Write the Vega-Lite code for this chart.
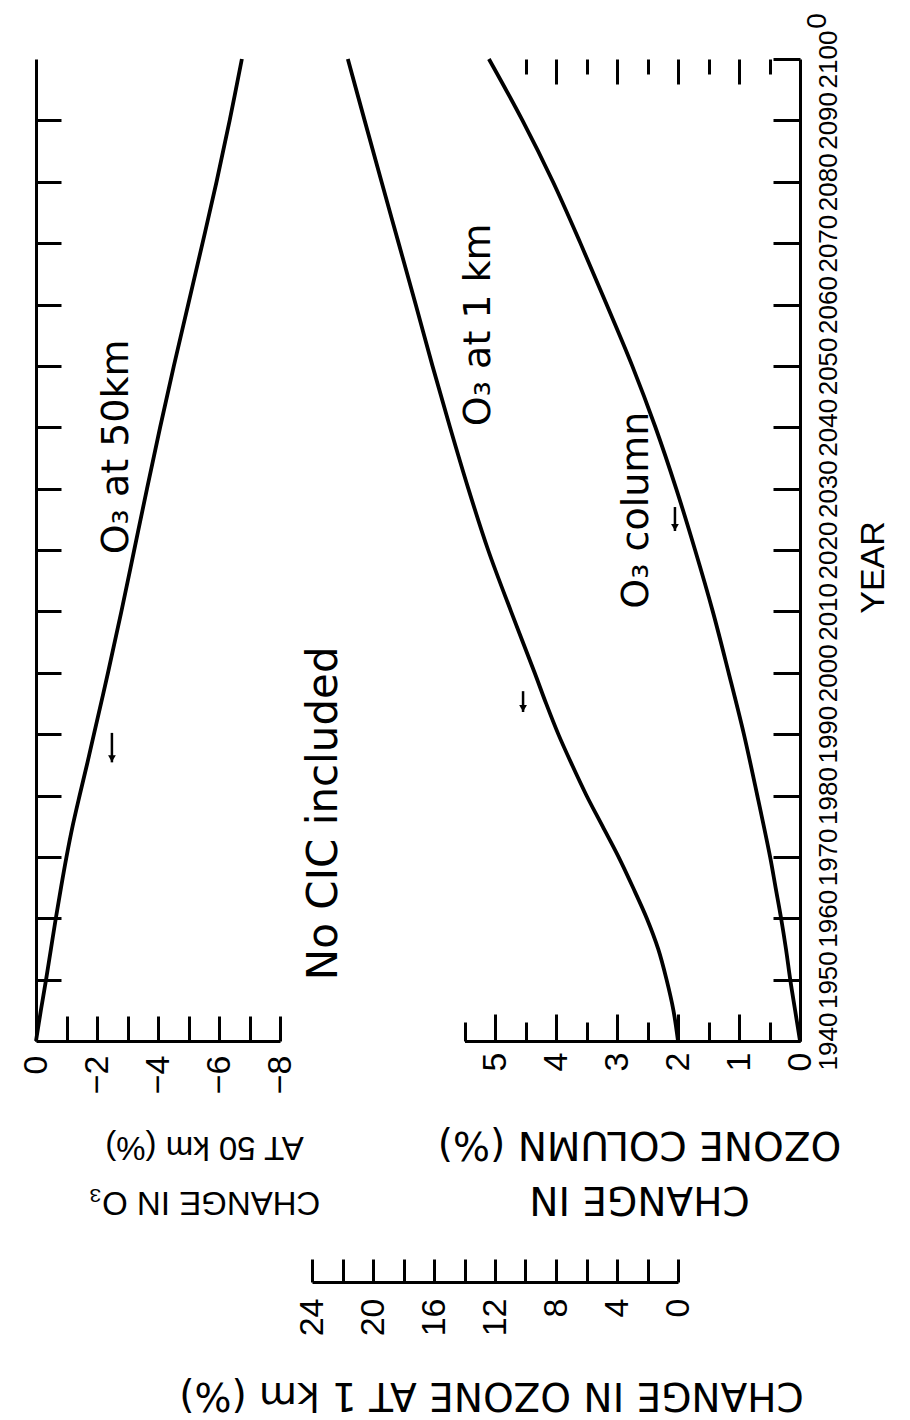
{
  "$schema": "https://vega.github.io/schema/vega-lite/v6.json",
  "width": 764,
  "height": 982,
  "autosize": "none",
  "padding": {"left": 36, "top": 59, "right": 110, "bottom": 379},
  "background": "white",
  "config": {
    "view": {"stroke": null},
    "axis": {
      "grid": false,
      "domainColor": "black",
      "domainWidth": 3,
      "tickColor": "black",
      "tickWidth": 3,
      "labelColor": "black",
      "titleColor": "black",
      "labelFont": "Liberation Sans",
      "labelFontSize": 34,
      "labelFontWeight": "normal",
      "titleFontWeight": "normal",
      "titleFont": "DejaVu Sans",
      "labelOverlap": false,
      "labelFlush": false,
      "labelBound": false
    }
  },
  "datasets": {
    "km50": [
      {"year": 1940, "change": 0}, {"year": 1945, "change": -0.16}, {"year": 1950, "change": -0.33},
      {"year": 1955, "change": -0.49}, {"year": 1960, "change": -0.65}, {"year": 1965, "change": -0.82},
      {"year": 1970, "change": -1.0}, {"year": 1975, "change": -1.2}, {"year": 1980, "change": -1.43},
      {"year": 1985, "change": -1.67}, {"year": 1990, "change": -1.9}, {"year": 2000, "change": -2.36},
      {"year": 2010, "change": -2.8}, {"year": 2020, "change": -3.22}, {"year": 2030, "change": -3.64},
      {"year": 2040, "change": -4.07}, {"year": 2050, "change": -4.52}, {"year": 2060, "change": -4.99},
      {"year": 2070, "change": -5.46}, {"year": 2080, "change": -5.92}, {"year": 2090, "change": -6.35},
      {"year": 2100, "change": -6.75}
    ],
    "km1": [
      {"year": 1940, "change": 0}, {"year": 1945, "change": 0.3}, {"year": 1950, "change": 0.75},
      {"year": 1955, "change": 1.3}, {"year": 1960, "change": 2.05}, {"year": 1965, "change": 2.95},
      {"year": 1970, "change": 3.9}, {"year": 1975, "change": 4.95}, {"year": 1980, "change": 6.0},
      {"year": 1985, "change": 6.95}, {"year": 1990, "change": 7.85}, {"year": 1995, "change": 8.65},
      {"year": 2000, "change": 9.4}, {"year": 2010, "change": 10.95}, {"year": 2020, "change": 12.45},
      {"year": 2030, "change": 13.75}, {"year": 2040, "change": 14.95}, {"year": 2050, "change": 16.1},
      {"year": 2060, "change": 17.2}, {"year": 2070, "change": 18.32}, {"year": 2080, "change": 19.44},
      {"year": 2090, "change": 20.55}, {"year": 2100, "change": 21.65}
    ],
    "column": [
      {"year": 1940, "change": 0}, {"year": 1945, "change": 0.08}, {"year": 1950, "change": 0.16},
      {"year": 1955, "change": 0.23}, {"year": 1960, "change": 0.31}, {"year": 1965, "change": 0.4},
      {"year": 1970, "change": 0.49}, {"year": 1980, "change": 0.7}, {"year": 1990, "change": 0.92},
      {"year": 2000, "change": 1.17}, {"year": 2010, "change": 1.43}, {"year": 2020, "change": 1.72},
      {"year": 2030, "change": 2.03}, {"year": 2040, "change": 2.37}, {"year": 2050, "change": 2.75},
      {"year": 2060, "change": 3.17}, {"year": 2070, "change": 3.6}, {"year": 2080, "change": 4.05},
      {"year": 2090, "change": 4.55}, {"year": 2100, "change": 5.1}
    ],
    "notes": [
      {"label": "O₃ at 50km", "year": 2036.8, "v": 11.02},
      {"label": "O₃ at 1 km", "year": 2056.7, "v": 5.08},
      {"label": "O₃ column", "year": 2026.5, "v": 2.49}
    ],
    "main_note": [
      {"label": "No CIC included", "year": 1977.1, "v": 7.59}
    ],
    "arrows": [
      {"v": 11.28, "top": 1990.2, "bottom": 1985.4, "head": 1986.0},
      {"v": 4.54, "top": 1997.0, "bottom": 1993.6, "head": 1994.2},
      {"v": 2.05, "top": 2027.0, "bottom": 2023.1, "head": 2023.7}
    ],
    "corner": [
      {"label": "0", "year": 2106.2, "v": -0.3}
    ]
  },
  "layer": [
    {
      "data": {"name": "km50"},
      "mark": {"type": "line", "color": "black", "strokeWidth": 3.8, "interpolate": "catmull-rom"},
      "encoding": {
        "x": {
          "field": "change", "type": "quantitative",
          "scale": {"domain": [0, -8], "range": [0, 244], "nice": false, "zero": false},
          "axis": {
            "orient": "bottom",
            "values": [0, -1, -2, -3, -4, -5, -6, -7, -8],
            "tickSize": -25,
            "labelExpr": "datum.value % 2 === 0 ? datum.label : ''",
            "labelAngle": 270, "labelAlign": "right", "labelBaseline": "middle", "labelPadding": 39,
            "title": ["CHANGE IN O₃", "AT 50 km (%)"],
            "titleAngle": 180, "titleX": 168, "titleY": 160,
            "titleAlign": "center", "titleBaseline": "middle",
            "titleFont": "Liberation Sans",
            "titleFontSize": 33, "titleLineHeight": 55
          }
        },
        "y": {
          "field": "year", "type": "quantitative",
          "scale": {"domain": [1940, 2100], "nice": false, "zero": false},
          "axis": {
            "orient": "left",
            "values": [1950, 1960, 1970, 1980, 1990, 2000, 2010, 2020, 2030, 2040, 2050, 2060, 2070, 2080, 2090],
            "tickSize": -25, "labels": false, "title": null
          }
        },
        "order": {"field": "year", "type": "quantitative"}
      }
    },
    {
      "data": {"name": "column"},
      "mark": {"type": "line", "color": "black", "strokeWidth": 3.8, "interpolate": "catmull-rom"},
      "encoding": {
        "x": {
          "field": "change", "type": "quantitative",
          "scale": {"domain": [0, 5.5], "range": [764, 428.5], "nice": false, "zero": false},
          "axis": {
            "orient": "bottom",
            "values": [0, 0.5, 1, 1.5, 2, 2.5, 3, 3.5, 4, 4.5, 5, 5.5],
            "tickSize": {"condition": {"test": "datum.value % 1 === 0", "value": -27}, "value": -19},
            "labelExpr": "datum.value % 1 === 0 ? format(datum.value, 'd') : ''",
            "labelAngle": 270, "labelAlign": "right", "labelBaseline": "middle", "labelPadding": 38,
            "title": ["CHANGE IN", "OZONE COLUMN (%)"],
            "titleAngle": 180, "titleX": 603, "titleY": 157,
            "titleAlign": "center", "titleBaseline": "middle",
            "titleFontSize": 39, "titleLineHeight": 55
          }
        },
        "y": {
          "field": "year", "type": "quantitative",
          "scale": {"domain": [1940, 2100], "nice": false, "zero": false},
          "axis": {
            "orient": "right",
            "values": [1940, 1950, 1960, 1970, 1980, 1990, 2000, 2010, 2020, 2030, 2040, 2050, 2060, 2070, 2080, 2090, 2100],
            "tickSize": -27,
            "format": "d",
            "labelFont": "Liberation Sans",
            "labelFontSize": 26,
            "labelAngle": 270, "labelAlign": "center", "labelBaseline": "top", "labelPadding": 42,
            "title": "YEAR",
            "titleAngle": 270, "titleX": 73, "titleY": 508,
            "titleAlign": "center", "titleBaseline": "middle",
            "titleFont": "Liberation Sans",
            "titleFontSize": 34
          }
        },
        "order": {"field": "year", "type": "quantitative"}
      }
    },
    {
      "data": {"name": "km1"},
      "mark": {"type": "line", "color": "black", "strokeWidth": 3.8, "interpolate": "catmull-rom"},
      "encoding": {
        "x": {
          "field": "change", "type": "quantitative",
          "scale": {"domain": [0, 24], "range": [642, 276], "nice": false, "zero": false},
          "axis": {
            "orient": "bottom", "offset": 241,
            "values": [0, 2, 4, 6, 8, 10, 12, 14, 16, 18, 20, 22, 24],
            "tickSize": -23,
            "labelExpr": "datum.value % 4 === 0 ? datum.label : ''",
            "labelAngle": 270, "labelAlign": "right", "labelBaseline": "middle", "labelPadding": 39,
            "title": "CHANGE IN OZONE AT 1 km (%)",
            "titleAngle": 180, "titleX": 455, "titleY": 112,
            "titleAlign": "center", "titleBaseline": "middle",
            "titleFontSize": 39
          }
        },
        "y": {
          "field": "year", "type": "quantitative",
          "scale": {"domain": [1940, 2100], "nice": false, "zero": false},
          "axis": null
        },
        "order": {"field": "year", "type": "quantitative"}
      }
    },
    {
      "mark": {"type": "rule", "color": "black", "strokeWidth": 3},
      "encoding": {
        "x": {
          "datum": 5.164, "type": "quantitative",
          "scale": {"domain": [0, 5.164], "range": [764, 449], "nice": false, "zero": false},
          "axis": {
            "orient": "top", "domain": false, "labels": false, "title": null,
            "values": [0.5, 1, 1.5, 2, 2.5, 3, 3.5, 4, 4.5],
            "tickSize": {"condition": {"test": "datum.value % 1 === 0", "value": -25}, "value": -15}
          }
        },
        "x2": {"datum": 0},
        "y": {"datum": 2100, "type": "quantitative", "axis": null}
      }
    },
    {
      "mark": {"type": "rule", "color": "black", "strokeWidth": 3},
      "encoding": {
        "x": {
          "datum": 0, "type": "quantitative",
          "scale": {"domain": [0, 1], "range": [0, 426], "nice": false, "zero": false},
          "axis": null
        },
        "x2": {"datum": 1},
        "y": {"datum": 2100, "type": "quantitative", "axis": null}
      }
    },
    {
      "data": {"name": "notes"},
      "mark": {"type": "text", "angle": 270, "align": "center", "baseline": "alphabetic", "font": "DejaVu Sans", "fontSize": 38, "color": "black"},
      "encoding": {
        "x": {"field": "v", "type": "quantitative", "scale": {"domain": [0, 5.5], "range": [764, 428.5], "nice": false, "zero": false}, "axis": null},
        "y": {"field": "year", "type": "quantitative", "axis": null},
        "text": {"field": "label"}
      }
    },
    {
      "data": {"name": "main_note"},
      "mark": {"type": "text", "angle": 270, "align": "center", "baseline": "alphabetic", "font": "DejaVu Sans", "fontSize": 42, "color": "black"},
      "encoding": {
        "x": {"field": "v", "type": "quantitative", "scale": {"domain": [0, 5.5], "range": [764, 428.5], "nice": false, "zero": false}, "axis": null},
        "y": {"field": "year", "type": "quantitative", "axis": null},
        "text": {"field": "label"}
      }
    },
    {
      "data": {"name": "arrows"},
      "mark": {"type": "rule", "color": "black", "strokeWidth": 2.5},
      "encoding": {
        "x": {"field": "v", "type": "quantitative", "scale": {"domain": [0, 5.5], "range": [764, 428.5], "nice": false, "zero": false}, "axis": null},
        "y": {"field": "top", "type": "quantitative", "axis": null},
        "y2": {"field": "bottom"}
      }
    },
    {
      "data": {"name": "arrows"},
      "mark": {"type": "point", "shape": "triangle-down", "filled": true, "size": 60, "color": "black", "opacity": 1},
      "encoding": {
        "x": {"field": "v", "type": "quantitative", "scale": {"domain": [0, 5.5], "range": [764, 428.5], "nice": false, "zero": false}, "axis": null},
        "y": {"field": "head", "type": "quantitative", "axis": null}
      }
    },
    {
      "data": {"name": "corner"},
      "mark": {"type": "text", "angle": 270, "align": "center", "baseline": "middle", "font": "Liberation Sans", "fontSize": 28, "color": "black"},
      "encoding": {
        "x": {"field": "v", "type": "quantitative", "scale": {"domain": [0, 5.5], "range": [764, 428.5], "nice": false, "zero": false}, "axis": null},
        "y": {"field": "year", "type": "quantitative", "axis": null},
        "text": {"field": "label"}
      }
    }
  ],
  "resolve": {
    "scale": {"x": "independent"},
    "axis": {"x": "independent", "y": "independent"}
  }
}
